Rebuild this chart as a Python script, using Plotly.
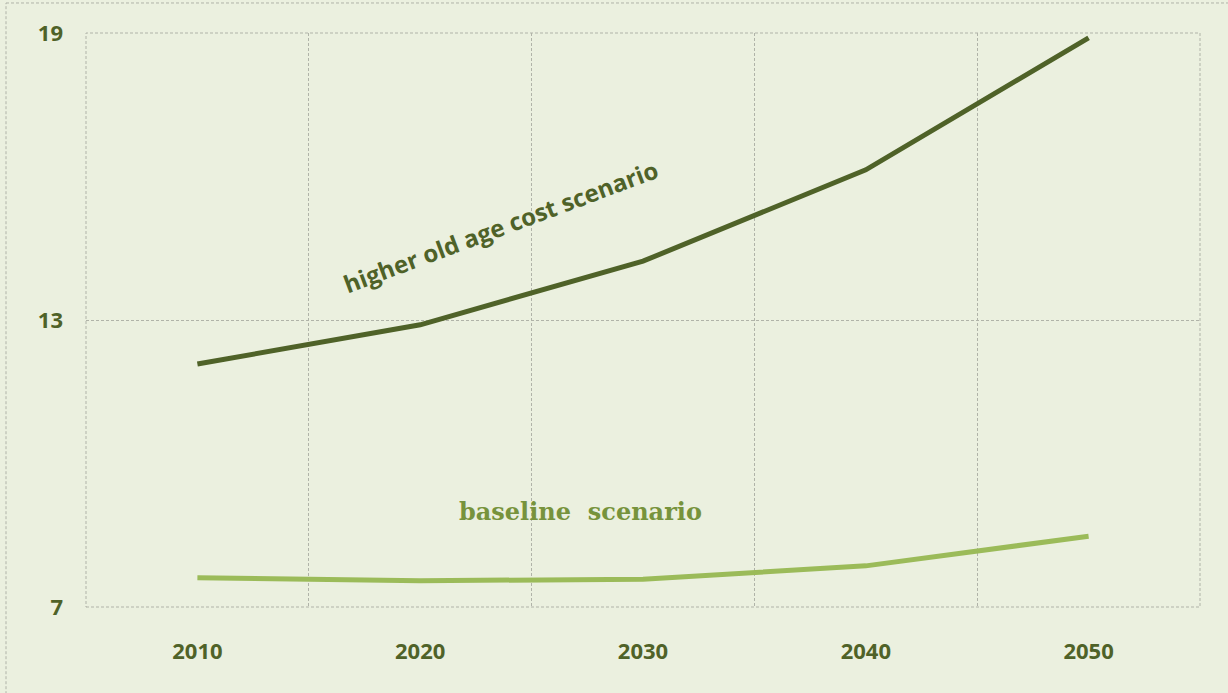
import plotly.graph_objects as go

years = ["2010", "2020", "2030", "2040", "2050"]
higher_cost = [12.08, 12.9, 14.23, 16.14, 18.9]
baseline = [7.61, 7.55, 7.58, 7.86, 8.48]
y_ticks = [7, 13, 19]

xpos = list(range(len(years)))
dark = "#4F6228"
light = "#9BBB59"
bg = "#EBF0DF"
grid = "#B0B3A8"

fig = go.Figure()
fig.add_trace(go.Scatter(x=xpos, y=higher_cost, mode="lines",
                         line=dict(color=dark, width=5), showlegend=False))
fig.add_trace(go.Scatter(x=xpos, y=baseline, mode="lines",
                         line=dict(color=light, width=5), showlegend=False))

fig.add_annotation(x=1.36, y=14.95, text="higher old age cost scenario", textangle=-20.5,
                   showarrow=False, font=dict(family="Open Sans", size=24, color=dark, weight="bold"))
fig.add_annotation(x=1.72, y=9.0, text="baseline&nbsp;&nbsp;scenario", showarrow=False,
                   font=dict(family="DejaVu Serif", size=24, color="#77933C", weight="bold"))

# outer chart border (dashed)
fig.add_shape(type="line", xref="paper", yref="paper", x0=-0.0718, x1=-0.0718, y0=-0.3, y1=1.0523,
              line=dict(color=grid, width=1, dash="3px,2px"))
fig.add_shape(type="line", xref="paper", yref="paper", x0=-0.0718, x1=1.2, y0=1.0523, y1=1.0523,
              line=dict(color=grid, width=1, dash="3px,2px"))

fig.update_layout(
    width=1228, height=693,
    margin=dict(l=86, r=28, t=33, b=86),
    paper_bgcolor=bg, plot_bgcolor=bg,
    xaxis=dict(range=[-0.5, len(years) - 0.5], tickvals=xpos, ticktext=years,
               showgrid=False, zeroline=False, showline=False, ticks="", ticklabelstandoff=29,
               tickfont=dict(family="Open Sans", size=22, color=dark, weight="bold"),
               minor=dict(tickvals=[i + 0.5 for i in xpos[:-1]], showgrid=True,
                          gridcolor=grid, griddash="3px,2px", gridwidth=1)),
    yaxis=dict(range=[7, 19], tickvals=y_ticks, showgrid=True, gridcolor=grid,
               griddash="3px,2px", gridwidth=1, zeroline=False, showline=False,
               ticks="", ticklabelstandoff=22,
               tickfont=dict(family="Open Sans", size=22, color=dark, weight="bold")),
)

# plot-area border (dashed)
fig.add_shape(type="rect", xref="paper", yref="paper", x0=0, x1=1, y0=0, y1=1,
              line=dict(color=grid, width=1, dash="3px,2px"), layer="below")

fig.write_html("out.html")
